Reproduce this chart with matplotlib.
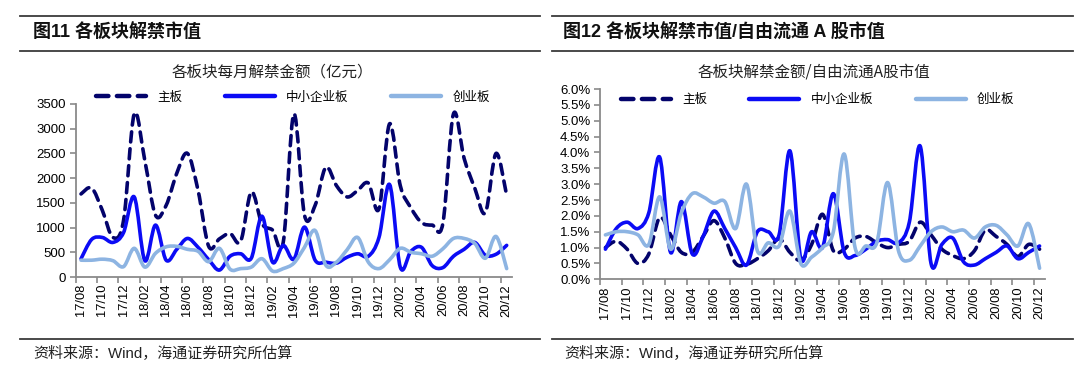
import numpy as np
import matplotlib
matplotlib.use("Agg")
import matplotlib.pyplot as plt
from matplotlib.path import Path
from matplotlib.patches import PathPatch
from matplotlib.lines import Line2D
from matplotlib.ticker import FuncFormatter

# ---------------- data ----------------
tick_labels = ["17/08", "17/10", "17/12", "18/02", "18/04", "18/06", "18/08",
               "18/10", "18/12", "19/02", "19/04", "19/06", "19/08", "19/10",
               "19/12", "20/02", "20/04", "20/06", "20/08", "20/10", "20/12"]
series_names = ["主板", "中小企业板", "创业板"]

# monthly unlock amount (亿元), 17/08 .. 20/12
amt_main = [1680, 1800, 1350, 800, 1150, 3300, 2350, 1250, 1450, 2100,
            2500, 1750, 620, 770, 880, 720, 1720, 1080, 950, 700,
            3300, 1250, 1450, 2220, 1850, 1620, 1750, 1900, 1380, 3100,
            1850, 1400, 1100, 1050, 1080, 3300, 2400, 1800, 1300, 2500, 1650]
amt_sme = [370, 760, 800, 700, 900, 1620, 330, 1050, 340, 560,
           780, 600, 350, 140, 420, 470, 380, 1230, 300, 640,
           360, 1010, 340, 300, 280, 400, 470, 420, 800, 1870,
           200, 520, 600, 230, 190, 420, 560, 700, 440, 460, 640]
amt_gem = [340, 340, 360, 330, 210, 580, 200, 480, 610, 620,
           560, 520, 310, 580, 160, 170, 200, 370, 120, 170,
           280, 600, 940, 240, 300, 550, 800, 300, 170, 350,
           580, 500, 470, 420, 570, 780, 780, 680, 380, 820, 170]

# unlock amount / free-float A-share market value (%)
pct_main = [1.0, 1.2, 0.95, 0.5, 0.8, 1.95, 1.4, 0.85, 0.85, 1.35,
            1.85, 1.3, 0.5, 0.47, 0.65, 0.9, 1.28, 0.85, 0.6, 1.1,
            2.05, 0.9, 0.95, 1.3, 1.35, 1.15, 1.0, 1.1, 1.2, 1.8,
            1.4, 0.95, 0.75, 0.65, 0.9, 1.55, 1.35, 1.1, 0.72, 1.1, 0.95]
pct_sme = [0.95, 1.6, 1.8, 1.6, 2.1, 3.85, 0.85, 2.45, 0.8, 1.35,
           2.15, 1.6, 1.0, 0.45, 1.5, 1.5, 1.4, 4.05, 0.65, 1.5,
           1.0, 2.7, 0.85, 0.75, 0.95, 1.2, 1.25, 1.15, 1.8, 4.2,
           0.5, 1.1, 1.3, 0.55, 0.45, 0.65, 0.85, 1.05, 0.65, 0.85, 1.05]
pct_gem = [1.4, 1.5, 1.5, 1.4, 1.1, 2.6, 0.95, 2.1, 2.7, 2.6,
           2.4, 2.45, 1.6, 3.0, 0.9, 1.15, 1.05, 2.15, 0.5, 0.7,
           1.0, 1.5, 3.95, 1.0, 1.05, 1.15, 3.05, 0.9, 0.6, 1.05,
           1.5, 1.65, 1.5, 1.55, 1.3, 1.65, 1.7, 1.4, 1.05, 1.75, 0.35]

# ---------------- style ----------------
C_MAIN = "#03036b"
C_SME = "#0b0bf5"
C_GEM = "#8db4e2"
AXC = "#8a8a8a"
LATIN_CJK = ["Liberation Sans", "Noto Sans CJK SC"]
CJK = ["Noto Sans CJK SC", "Liberation Sans"]

W, H = 1080, 372
fig = plt.figure(figsize=(W / 100, H / 100), dpi=100)


def fx(px):
    return px / W


def fy(py):
    return 1 - py / H


def smooth_path(xs, ys):
    pts = np.column_stack([xs, ys]).astype(float)
    n = len(pts)
    verts = [pts[0]]
    codes = [Path.MOVETO]
    for i in range(n - 1):
        p0 = pts[i - 1] if i > 0 else pts[i]
        p1 = pts[i]
        p2 = pts[i + 1]
        p3 = pts[i + 2] if i + 2 < n else pts[i + 1]
        verts += [p1 + (p2 - p0) / 6.0, p2 - (p3 - p1) / 6.0, p2]
        codes += [Path.CURVE4] * 3
    return Path(verts, codes)


styles = [
    dict(color=C_MAIN, lw=2.6, ls=(0, (2.8, 1.9)), capstyle="round"),
    dict(color=C_SME, lw=2.6, ls="-", capstyle="round"),
    dict(color=C_GEM, lw=2.6, ls="-", capstyle="round"),
]


def draw_panel(ax, series, ymax, ystep, fmt):
    n = len(series[0])
    xs = np.arange(n) + 0.5
    for vals, st in zip(series, styles):
        patch = PathPatch(smooth_path(xs, vals), facecolor="none",
                          edgecolor=st["color"], lw=st["lw"],
                          linestyle=st["ls"], capstyle=st["capstyle"],
                          joinstyle="round", transform=ax.transData)
        ax.add_patch(patch)
    ax.set_xlim(0, n)
    ax.set_ylim(0, ymax)
    for s in ["top", "right"]:
        ax.spines[s].set_visible(False)
    for s in ["left", "bottom"]:
        ax.spines[s].set_color(AXC)
        ax.spines[s].set_linewidth(1.3)
    ax.set_xticks(np.arange(0, n, 2))
    ax.set_xticklabels([])
    ax.set_xticks(np.arange(0, n, 2) + 0.5, minor=True)
    ax.set_xticklabels(tick_labels, minor=True, rotation=90,
                       fontsize=9.3, family=LATIN_CJK)
    ax.tick_params(axis="x", which="major", length=4, width=1.2, color=AXC)
    ax.tick_params(axis="x", which="minor", length=0, pad=5)
    ax.set_yticks(np.arange(0, ymax + ystep / 2, ystep))
    ax.yaxis.set_major_formatter(FuncFormatter(fmt))
    ax.tick_params(axis="y", length=4, width=1.2, color=AXC, pad=3)
    for lab in ax.get_yticklabels():
        lab.set_fontsize(9.5)
        lab.set_family(LATIN_CJK)


# ---------------- left panel ----------------
axL = fig.add_axes([fx(75.7), fy(277), fx(512 - 75.7), (277 - 104) / H])
draw_panel(axL, [amt_main, amt_sme, amt_gem], 3500, 500,
           lambda v, p: f"{int(v)}")

# ---------------- right panel ----------------
axR = fig.add_axes([fx(600), fy(279.3), fx(1045 - 600), (279.3 - 89) / H])
draw_panel(axR, [pct_main, pct_sme, pct_gem], 6.0, 0.5,
           lambda v, p: f"{v:.1f}%")

# legends
handles = [Line2D([0], [0], color=st["color"], lw=st["lw"] + 0.6,
                  ls=st["ls"], solid_capstyle="round",
                  dash_capstyle="round") for st in styles]
for ax, ypos in [(axL, 1.04), (axR, 0.945)]:
    ax.legend(handles, series_names, ncol=3, loc="center left",
              bbox_to_anchor=(0.035, ypos), frameon=False,
              prop={"family": CJK, "size": 9}, handlelength=4.0,
              handletextpad=0.9, columnspacing=3.4, borderaxespad=0)

# subtitles
fig.text(fx(272), fy(72), "各板块每月解禁金额（亿元）", ha="center",
         va="center", fontsize=11.2, family=CJK, color="#222222")
fig.text(fx(814), fy(72), "各板块解禁金额/自由流通A股市值", ha="center",
         va="center", fontsize=11.2, family=CJK, color="#222222")

# panel titles and rules
for x0, x1 in [(20, 540), (552, 1073)]:
    for yy in (16, 51, 339):
        fig.add_artist(Line2D([fx(x0), fx(x1)], [fy(yy)] * 2,
                              color="#3a3a3a", lw=1.3))
fig.text(fx(33), fy(33), "图11 各板块解禁市值", ha="left", va="center",
         fontsize=13, fontweight="bold", family=LATIN_CJK, color="#111111")
fig.text(fx(563), fy(33), "图12 各板块解禁市值/自由流通 A 股市值", ha="left",
         va="center", fontsize=13, fontweight="bold", family=LATIN_CJK,
         color="#111111")

# sources
for x in (33, 564):
    fig.text(fx(x), fy(353), "资料来源：Wind，海通证券研究所估算", ha="left",
             va="center", fontsize=10.8, family=LATIN_CJK, color="#222222")

fig.savefig("out.png", dpi=100, facecolor="white")
